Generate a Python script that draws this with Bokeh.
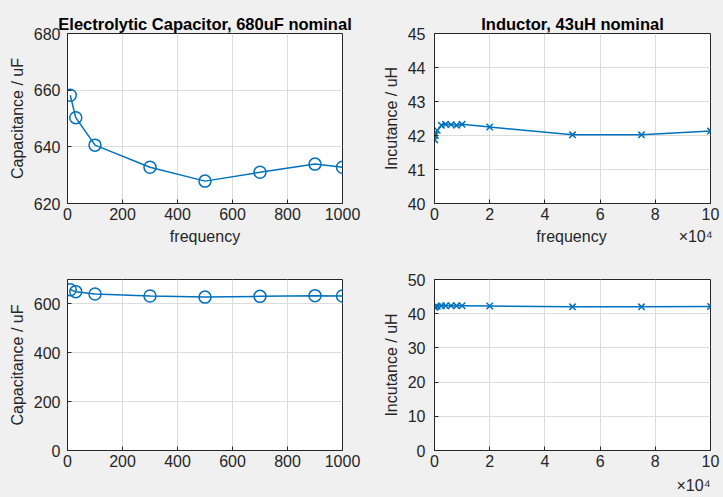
from bokeh.plotting import figure
from bokeh.layouts import column, row
from bokeh.models import Range1d, Title, FixedTicker
from bokeh.embed import file_html
from bokeh.resources import INLINE

# Capacitor data
cap_freq = [10, 30, 100, 300, 500, 700, 900, 1000]
cap_val = [658.2, 650.3, 640.6, 632.8, 627.9, 631.0, 633.9, 632.8]

# Inductor data
ind_freq = [100, 300, 1000, 2500, 4000, 6000, 8000, 10000, 20000, 50000, 75000, 100000]
ind_val = [41.87, 42.0, 42.15, 42.3, 42.33, 42.32, 42.3, 42.33, 42.25, 42.02, 42.02, 42.13]
ind_scale = 1e4

cap_title = "Electrolytic Capacitor, 680uF nominal"
ind_title = "Inductor, 43uH nominal"
cap_ylabel = "Capacitance / uF"
ind_ylabel = "Incutance / uH"
xlabel = "frequency"
exp_label = "×10⁴"

BLUE = "#0072BD"
BG = "#f0f0f0"
TXT = "#262626"
FONT = "Liberation Sans"

EN = "\u2002"
ind_xlabel = EN * 13 + xlabel + EN * 9 + exp_label


def make_fig(xr, yr, xticks, yticks, left, right, top, bottom, fw, fh,
             title=None, xlab=None, ylab=None, ystand=7):
    p = figure(output_backend="svg", toolbar_location=None,
               x_range=Range1d(*xr), y_range=Range1d(*yr),
               frame_width=fw, frame_height=fh,
               min_border_left=left, min_border_right=right,
               min_border_top=top, min_border_bottom=bottom,
               title=title)
    p.border_fill_color = BG
    p.background_fill_color = "white"
    p.outline_line_color = TXT
    p.outline_line_width = 1
    if title:
        p.title.text_font = FONT
        p.title.text_font_size = "16.5px"
        p.title.text_font_style = "bold"
        p.title.text_color = "black"
        p.title.align = "center"
        p.title.standoff = 2
    for ax in (p.xaxis[0], p.yaxis[0]):
        ax.major_label_text_font = FONT
        ax.major_label_text_font_size = "16px"
        ax.major_label_text_color = TXT
        ax.axis_label_text_font = FONT
        ax.axis_label_text_font_size = "16px"
        ax.axis_label_text_font_style = "normal"
        ax.axis_label_text_color = TXT
        ax.major_tick_in = 4
        ax.major_tick_out = 0
        ax.minor_tick_in = 0
        ax.minor_tick_out = 0
        ax.axis_line_color = TXT
        ax.major_tick_line_color = TXT
    p.xaxis[0].ticker = FixedTicker(ticks=xticks)
    p.yaxis[0].ticker = FixedTicker(ticks=yticks)
    p.xaxis[0].major_label_standoff = 4
    p.yaxis[0].major_label_standoff = ystand
    if xlab:
        p.xaxis[0].axis_label = xlab
        p.xaxis[0].axis_label_standoff = 5
    if ylab:
        p.yaxis[0].axis_label = ylab
        p.yaxis[0].axis_label_standoff = 5
    p.grid.grid_line_color = "#dcdcdc"
    p.grid.grid_line_width = 1
    return p


ind_x = [f / ind_scale for f in ind_freq]

p1 = make_fig((0, 1000), (620, 680), [0, 200, 400, 600, 800, 1000], [620, 640, 660, 680],
              67, 20, 33, 47, 275, 170, title=cap_title, xlab=xlabel, ylab=cap_ylabel)
p1.line(cap_freq, cap_val, color=BLUE, line_width=1.5)
p1.scatter(cap_freq, cap_val, marker="circle", size=12, fill_color=None,
           line_color=BLUE, line_width=1.5)

p2 = make_fig((0, 10), (40, 45), [0, 2, 4, 6, 8, 10], [40, 41, 42, 43, 44, 45],
              72, 13, 33, 47, 276, 170, title=ind_title, xlab=ind_xlabel, ylab=ind_ylabel,
              ystand=9)
p2.line(ind_x, ind_val, color=BLUE, line_width=1.5)
p2.scatter(ind_x, ind_val, marker="x", size=9, line_color=BLUE, line_width=1.5)

p3 = make_fig((0, 1000), (0, 700), [0, 200, 400, 600, 800, 1000], [0, 200, 400, 600],
              67, 20, 29, 47, 275, 171, ylab=cap_ylabel)
p3.line(cap_freq, cap_val, color=BLUE, line_width=1.5)
p3.scatter(cap_freq, cap_val, marker="circle", size=12, fill_color=None,
           line_color=BLUE, line_width=1.5)

p4 = make_fig((0, 10), (0, 50), [0, 2, 4, 6, 8, 10], [0, 10, 20, 30, 40, 50],
              72, 13, 29, 47, 276, 171, ylab=ind_ylabel, ystand=9)
p4.line(ind_x, ind_val, color=BLUE, line_width=1.5)
p4.scatter(ind_x, ind_val, marker="x", size=9, line_color=BLUE, line_width=1.5)
p4.add_layout(Title(text=exp_label, align="right", text_font=FONT, text_font_size="16px",
                    text_font_style="normal", text_color=TXT, standoff=10), "below")

layout = column(row(p1, p2, spacing=0), row(p3, p4, spacing=0), spacing=0)
layout.background = BG

html = file_html(layout, INLINE)
html = html.replace("<body>", '<body style="margin:0;background-color:#f0f0f0">', 1)
open("out.html", "w").write(html)
